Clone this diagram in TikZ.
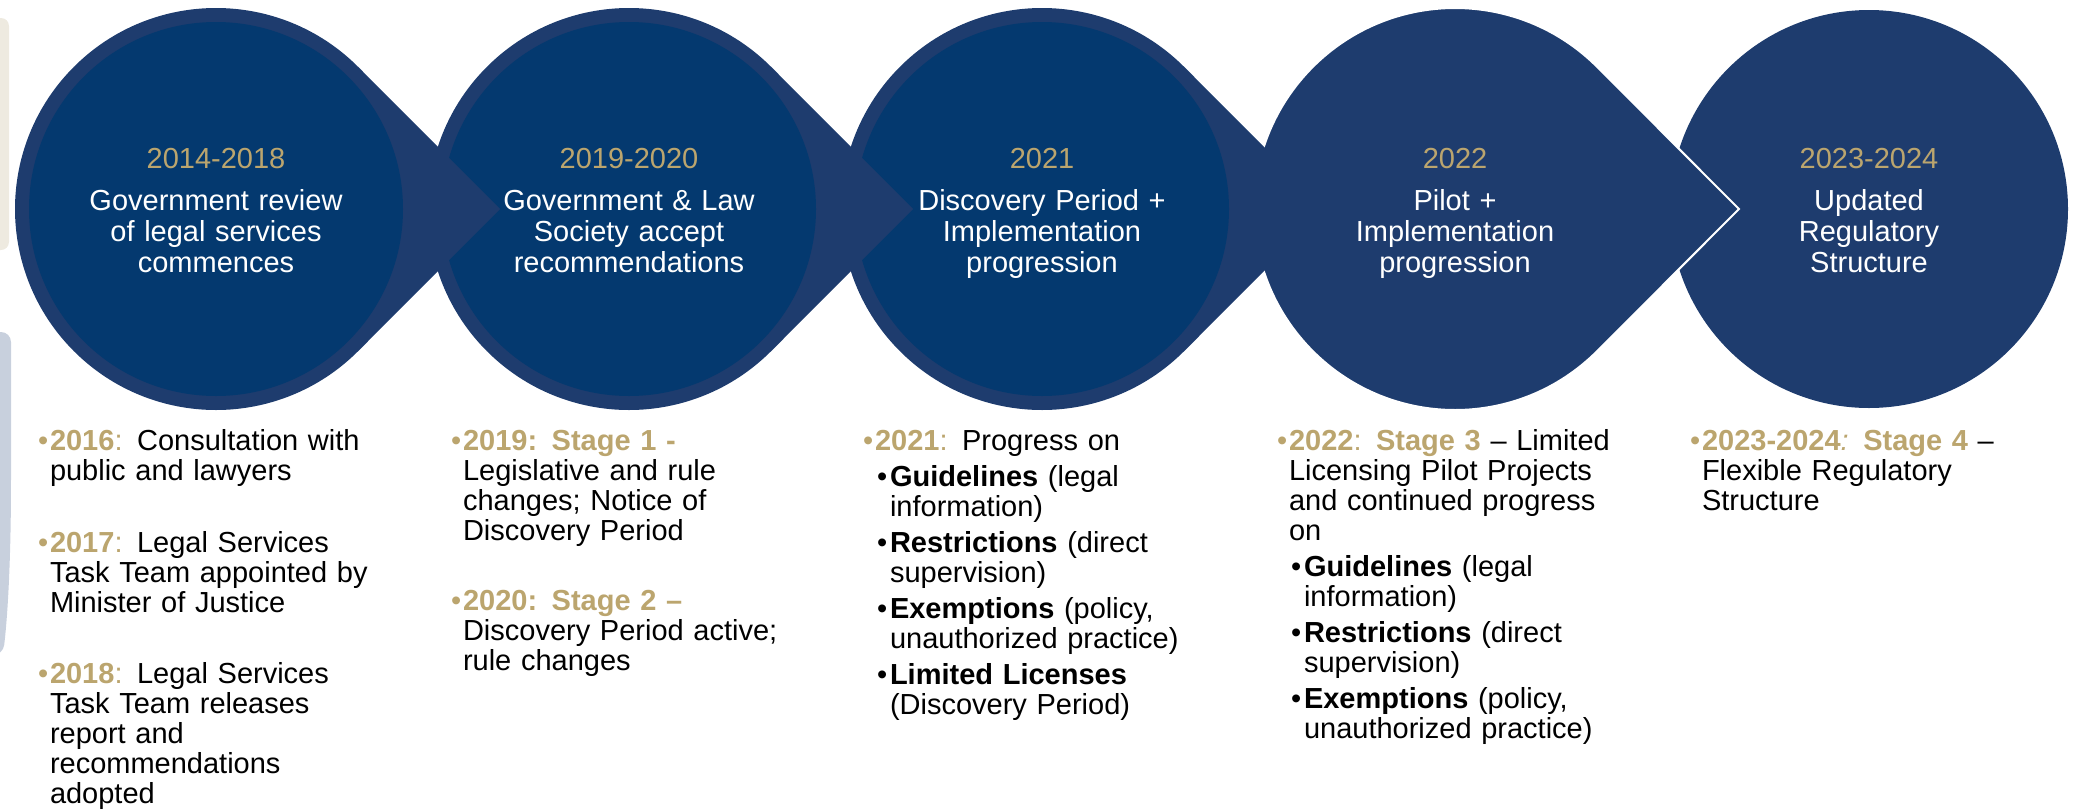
\documentclass[tikz,border=0pt]{standalone}
\usepackage{fontspec}
\setmainfont{Liberation Sans}
\usepackage{tikz}
\usetikzlibrary{calc}
\usepackage{xcolor}

\definecolor{ringblue}{RGB}{30,60,110}
\definecolor{coreblue}{RGB}{4,57,111}
\definecolor{tlgold}{RGB}{187,165,110}
\definecolor{fadebeige}{RGB}{238,234,224}
\definecolor{fadeblue}{RGB}{200,208,221}

\newcommand{\yr}[1]{\textcolor{tlgold}{\textbf{#1}}}
\newcommand{\tlitem}{\hangindent=12pt\hangafter=1\noindent\makebox[12pt][l]{\textcolor{tlgold}{•}}}
\newcommand{\tlsub}{\par\vspace{6pt}\hangindent=27pt\hangafter=1\noindent\hspace*{14pt}\makebox[13pt][l]{•}}

\begin{document}
\begin{tikzpicture}[x=1pt, y=1pt,
    every node/.style={inner sep=0pt, outer sep=0pt},
    circtext/.style={text=white, text width=340pt, align=center, anchor=base,
        font=\fontsize{29}{31}\selectfont},
    coltext/.style={text=black, text width=390pt, align=left, anchor=base west,
        font=\fontsize{29}{30}\selectfont}]
            \useasboundingbox (0,0) rectangle (2075,-809);

            % faded background at the left edge
            \fill[fadebeige, rounded corners=8pt] (-20,-18) rectangle (9,-250);
            \fill[fadeblue, rounded corners=10pt] (-20,-332) -- (11,-332) -- (11,-470) .. controls (11,-580) and (6,-630) .. (3,-655) -- (-20,-655) -- cycle;

            % stage shapes, right to left so each tip lies on the next one
            \coordinate (c5) at (1869,-209);
            \fill[ringblue] (c5) circle (199);

            \coordinate (c4) at (1455,-209);
            \coordinate (t4) at (1739,-209);
            \filldraw[fill=ringblue, draw=white, line width=2pt] (t4) -- ($(c4)+(45:201)$) arc[start angle=45, end angle=315, radius=201] -- cycle;

            \coordinate (c3) at (1042,-209);
            \coordinate (t3) at (1326,-209);
            \fill[ringblue] (t3) -- ($(c3)+(45:201)$) arc[start angle=45, end angle=315, radius=201] -- cycle;
            \fill[coreblue] (c3) circle (187);

            \coordinate (c2) at (629,-209);
            \coordinate (t2) at (913,-209);
            \fill[ringblue] (t2) -- ($(c2)+(45:201)$) arc[start angle=45, end angle=315, radius=201] -- cycle;
            \fill[coreblue] (c2) circle (187);

            \coordinate (c1) at (216,-209);
            \coordinate (t1) at (500,-209);
            \fill[ringblue] (t1) -- ($(c1)+(45:201)$) arc[start angle=45, end angle=315, radius=201] -- cycle;
            \fill[coreblue] (c1) circle (187);

            % circle labels
            \node[circtext] (s1) at (216,-168) {\textcolor{tlgold}{2014-2018}\\[11pt]Government review\\of legal services\\commences};
            \node[circtext] (s2) at (629,-168) {\textcolor{tlgold}{2019-2020}\\[11pt]Government \& Law\\Society accept\\recommendations};
            \node[circtext] (s3) at (1042,-168) {\textcolor{tlgold}{2021}\\[11pt]Discovery Period +\\Implementation\\progression};
            \node[circtext] (s4) at (1455,-168) {\textcolor{tlgold}{2022}\\[11pt]Pilot +\\Implementation\\progression};
            \node[circtext] (s5) at (1869,-168) {\textcolor{tlgold}{2023-2024}\\[11pt]Updated\\Regulatory\\Structure};

            % notes under each stage
            \node[coltext] (b1) at (38,-450) {%
                \tlitem\yr{2016}\textcolor{tlgold}{:} Consultation with\newline public and lawyers
                \par\vspace{42pt}
                \tlitem\yr{2017}\textcolor{tlgold}{:} Legal Services\newline Task Team appointed by\newline Minister of Justice
                \par\vspace{41pt}
                \tlitem\yr{2018}\textcolor{tlgold}{:} Legal Services\newline Task Team releases\newline report and\newline recommendations\newline adopted\par};
            \node[coltext] (b2) at (451,-450) {%
                \tlitem\yr{2019: Stage 1 -}\newline Legislative and rule\newline changes; Notice of\newline Discovery Period
                \par\vspace{40pt}
                \tlitem\yr{2020: Stage 2 –}\newline Discovery Period active;\newline rule changes\par};
            \node[coltext] (b3) at (863,-450) {%
                \tlitem\yr{2021}\textcolor{tlgold}{:} Progress on
                \tlsub\textbf{Guidelines} (legal\newline information)
                \tlsub\textbf{Restrictions} (direct\newline supervision)
                \tlsub\textbf{Exemptions} (policy,\newline unauthorized practice)
                \tlsub\textbf{Limited Licenses}\newline (Discovery Period)\par};
            \node[coltext] (b4) at (1277,-450) {%
                \tlitem\yr{2022}\textcolor{tlgold}{:} \yr{Stage 3} – Limited\newline Licensing Pilot Projects\newline and continued progress\newline on
                \tlsub\textbf{Guidelines} (legal\newline information)
                \tlsub\textbf{Restrictions} (direct\newline supervision)
                \tlsub\textbf{Exemptions} (policy,\newline unauthorized practice)\par};
            \node[coltext] (b5) at (1690,-450) {%
                \tlitem\yr{2023-2024}\textcolor{tlgold}{\textit{:}} \yr{Stage 4} –\newline Flexible Regulatory\newline Structure\par};
        \end{tikzpicture}
\end{document}
